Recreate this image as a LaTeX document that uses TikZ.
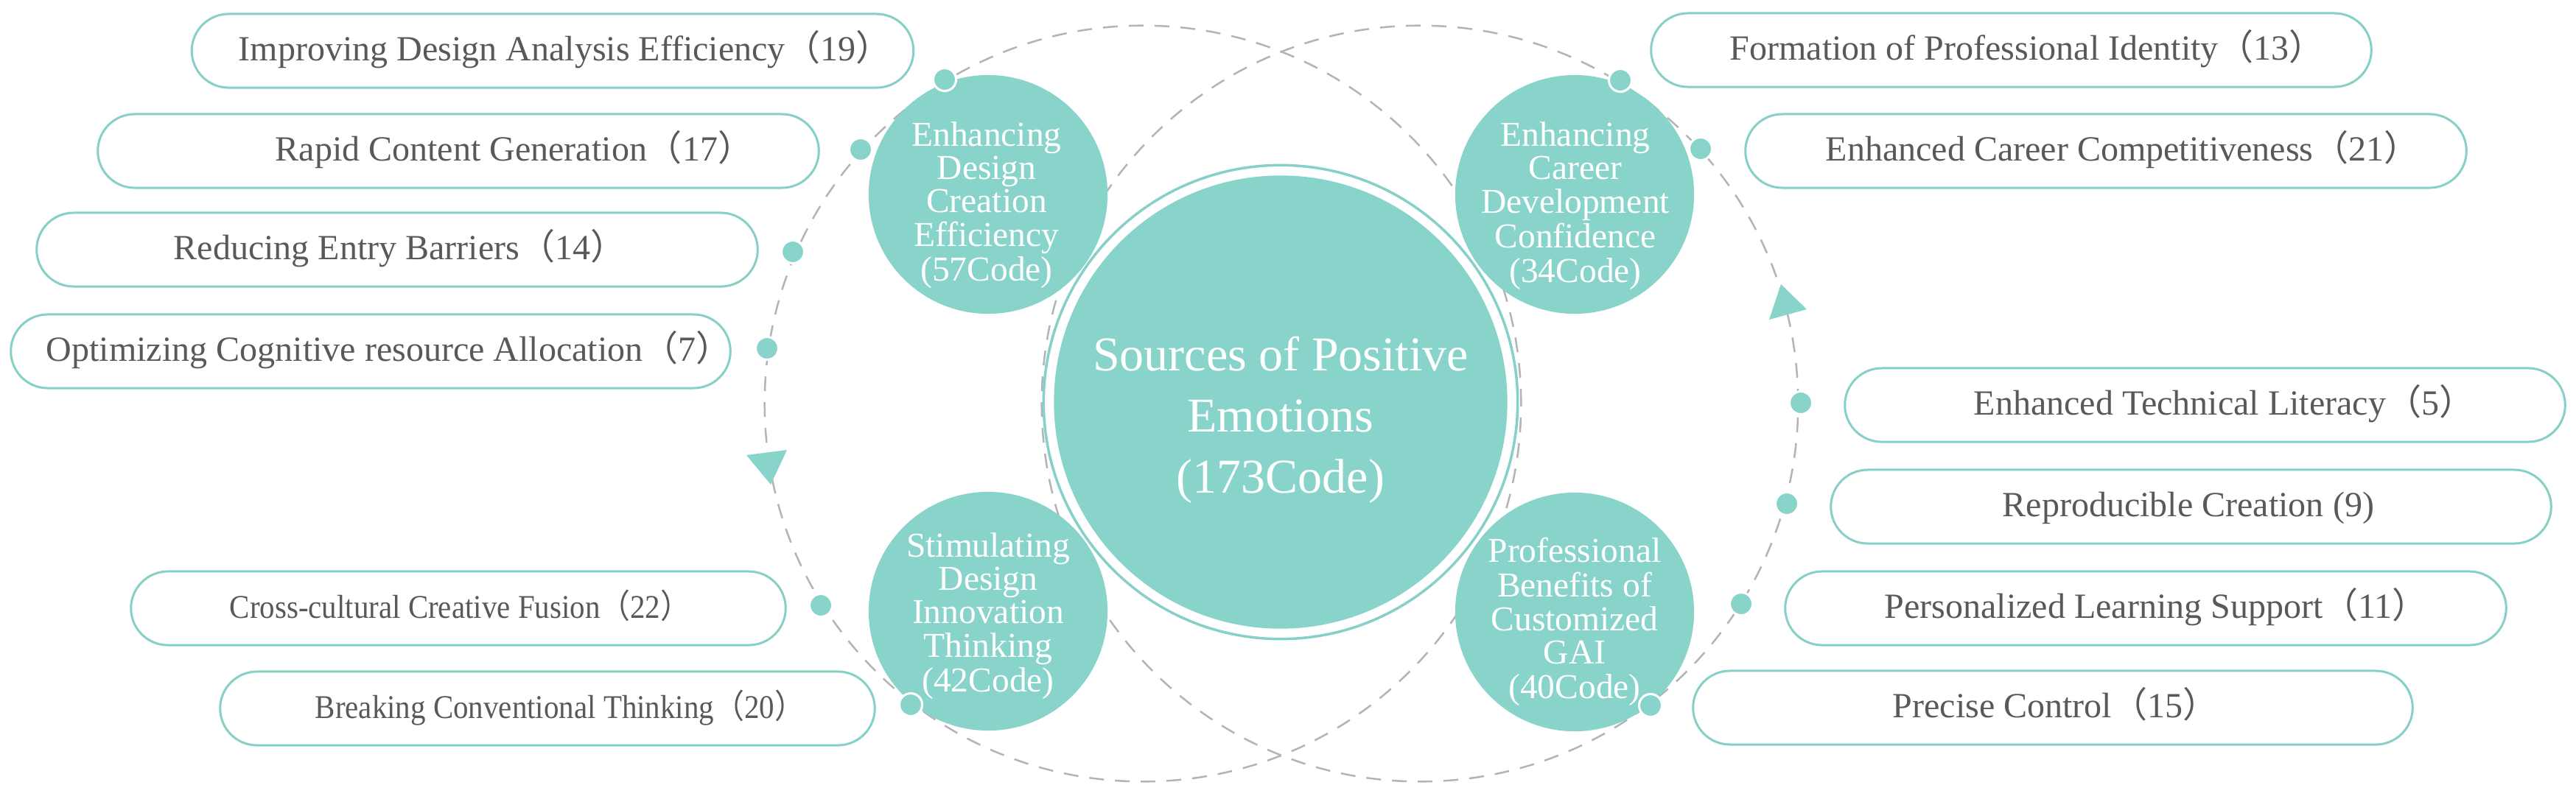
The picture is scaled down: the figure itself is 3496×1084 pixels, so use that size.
\documentclass[tikz,border=0pt]{standalone}
\usepackage{graphicx}
\usepackage{fontspec}
\setmainfont{Liberation Serif}
\newfontfamily\cjkfont{Noto Sans CJK SC}
\newcommand\lpar{{\cjkfont （}}
\newcommand\rpar{{\cjkfont ）}}
\newcommand\circtxt[1]{\begin{tabular}{@{}c@{}}#1\end{tabular}}
\definecolor{tealc}{HTML}{88D4CA}
\definecolor{pillc}{HTML}{86D0C7}
\definecolor{txtc}{HTML}{595959}
\definecolor{dashc}{HTML}{B4B4B4}
\begin{document}
\begin{tikzpicture}[x=0.01cm, y=-0.01cm,
  pill/.style={draw=pillc, line width=0.03cm, rounded corners=0.5cm, minimum height=1.0cm, inner sep=0},
  ptext/.style={anchor=base west, inner sep=0, text=txtc, font=\fontsize{13.66pt}{16pt}\selectfont},
  ptexts/.style={ptext, font=\fontsize{12.8pt}{15pt}\selectfont},
  sub/.style={circle, fill=tealc, minimum size=3.24cm, inner sep=0},
  subtext/.style={text=white, inner sep=0, font=\fontsize{13.5pt}{12.8pt}\selectfont},
  dot/.style={circle, fill=tealc, draw=white, line width=0.03cm, minimum size=0.31cm, inner sep=0},
  ringdash/.style={dash pattern=on 0.2cm off 0.15cm, draw=dashc, line width=0.025cm}
]
\fill[white] (0,0) rectangle (3496,1084);
\useasboundingbox (0,0) rectangle (3496,1084);

% dashed orbits
\draw[ringdash] (1551,548) circle[radius=5.13cm];
\draw[ringdash] (1927,548) circle[radius=5.13cm];

% arrowheads on orbits
\fill[tealc] (1013,618) -- (1068,611) -- (1046,658) -- cycle;
\fill[tealc] (2417,386) -- (2401,434) -- (2452,420) -- cycle;

% central circle
\draw[pillc, line width=0.035cm] (1738,546) circle[radius=3.215cm];
\node[circle, fill=tealc, minimum size=6.15cm, inner sep=0] (core) at (1738,546) {};
\node[text=white, align=center, inner sep=0, font=\fontsize{18.78pt}{23.6pt}\selectfont] (coretext) at (1738,570)
  {Sources of Positive\\Emotions\\(173Code)};

% sub circles
\node[sub] (c1) at (1341,264) {};
\node[sub] (c2) at (2137,264) {};
\node[sub] (c3) at (1341,830) {};
\node[sub] (c4) at (2137,831) {};
\node[subtext] (t1) at (1339,280) {\circtxt{Enhancing\\Design\\Creation\\Efficiency\\(57Code)}};
\node[subtext] (t2) at (2138,281) {\circtxt{Enhancing\\Career\\Development\\Confidence\\(34Code)}};
\node[subtext] (t3) at (1341,838) {\circtxt{Stimulating\\Design\\Innovation\\Thinking\\(42Code)}};
\node[subtext] (t4) at (2137,846) {\circtxt{Professional\\Benefits of\\Customized\\GAI\\(40Code)}};

% dots on orbits
\node[dot] (d1) at (1282,108) {};
\node[dot] (d2) at (1168,203) {};
\node[dot] (d3) at (1076,342) {};
\node[dot] (d4) at (1041,473) {};
\node[dot] (d5) at (1114,822) {};
\node[dot] (d6) at (1236,957) {};
\node[dot] (e1) at (2199,109) {};
\node[dot] (e2) at (2308,202) {};
\node[dot] (e3) at (2444,547) {};
\node[dot] (e4) at (2425,684) {};
\node[dot] (e5) at (2363,820) {};
\node[dot] (e6) at (2240,958) {};

% left pills
\node[pill, minimum width=9.79cm] (p1) at (750,69) {};
\node[pill, minimum width=9.78cm] (p2) at (622,205) {};
\node[pill, minimum width=9.78cm] (p3) at (539,339) {};
\node[pill, minimum width=9.76cm] (p4) at (503,477) {};
\node[pill, minimum width=8.88cm] (p5) at (622,826) {};
\node[pill, minimum width=8.88cm] (p6) at (743,962) {};
\node[ptext] (l1) at (323,82) {Improving Design Analysis Efficiency\lpar 19\rpar};
\node[ptext] (l2) at (373,218) {Rapid Content Generation\lpar 17\rpar};
\node[ptext] (l3) at (235,352) {Reducing Entry Barriers\lpar 14\rpar};
\node[ptext] (l4) at (62,490) {Optimizing Cognitive resource Allocation\lpar 7\rpar};
\node[ptexts] (l5) at (311,839) {\scalebox{0.91}[1]{Cross-cultural Creative Fusion\lpar 22\rpar}};
\node[ptexts] (l6) at (427,975) {\scalebox{0.91}[1]{Breaking Conventional Thinking\lpar 20\rpar}};

% right pills
\node[pill, minimum width=9.77cm] (q1) at (2729.5,68) {};
\node[pill, minimum width=9.78cm] (q2) at (2858,205) {};
\node[pill, minimum width=9.77cm] (q3) at (2992.5,550) {};
\node[pill, minimum width=9.77cm] (q4) at (2973.5,688) {};
\node[pill, minimum width=9.78cm] (q5) at (2912,826) {};
\node[pill, minimum width=9.76cm] (q6) at (2786,961) {};
\node[ptext] (r1) at (2347,81) {Formation of Professional Identity\lpar 13\rpar};
\node[ptext] (r2) at (2477,218) {Enhanced Career Competitiveness\lpar 21\rpar};
\node[ptext] (r3) at (2678,563) {Enhanced Technical Literacy\lpar 5\rpar};
\node[ptext] (r4) at (2717,701) {Reproducible Creation (9)};
\node[ptext] (r5) at (2557,839) {Personalized Learning Support\lpar 11\rpar};
\node[ptext] (r6) at (2568,974) {Precise Control\lpar 15\rpar};
\end{tikzpicture}
\end{document}
